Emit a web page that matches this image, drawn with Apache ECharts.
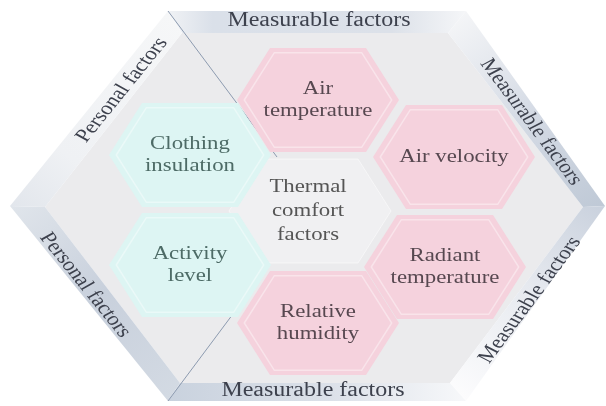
<!DOCTYPE html>
<html><head><meta charset="utf-8">
<script src="https://cdn.jsdelivr.net/npm/echarts@6/dist/echarts.min.js"></script>
<style>html,body{margin:0;padding:0;background:#fff}#main{width:606px;height:406px}</style>
</head><body><div id="main"></div>
<script>
// ---- content ----
const factorLabels = ['Air\ntemperature', 'Air velocity', 'Radiant\ntemperature', 'Relative\nhumidity', 'Clothing\ninsulation', 'Activity\nlevel'];
const factorGroups = ['measurable', 'measurable', 'measurable', 'measurable', 'personal', 'personal'];
const centreLabel = 'Thermal\ncomfort\nfactors';
const bandLabels = ['Measurable factors', 'Measurable factors', 'Measurable factors', 'Measurable factors', 'Personal factors', 'Personal factors'];

// ---- layout (diagram geometry, in axis units) ----
const hexCentres = [[318, 100], [454, 157], [445, 267], [318, 323], [190, 155], [190, 265]];
const centreHex = [310, 211];
const outerFrame = [[168, 11], [466, 11], [605, 206], [466, 401], [168, 401], [10, 206]];
const innerFrame = [[182, 33], [448, 33], [583, 207], [450, 383], [180, 383], [45, 207]];
const bandText = [[319, 21, 0], [531, 122, -58], [530, 300, 58], [313, 391, 0], [85, 285, -56], [122, 90, 56]];
const dividers = [[[168, 11], [277, 157]], [[168, 401], [268, 267]]];
const HX = 81, HT = 48, HY = 52, STRETCH = 1.2;

const bandStops = [
  [[0, '#f0f2f5'], [0.15, '#dae0e9'], [0.75, '#dce1e9'], [1, '#f5f6f8']],
  [[0, '#f4f5f7'], [0.5, '#d5dbe5'], [1, '#bfc9d6']],
  [[0, '#c9d1dd'], [0.45, '#e6e9ef'], [1, '#fcfcfd']],
  [[0, '#f7f8fa'], [0.45, '#dce1e9'], [1, '#c9d2de']],
  [[0, '#d3dae3'], [0.5, '#c8d0dc'], [1, '#e0e5eb']],
  [[0, '#e2e6ec'], [0.3, '#eff1f4'], [1, '#f6f7f8']]
];
const groupStyle = {
  measurable: { fill: '#f5d2dd', text: '#574850' },
  personal: { fill: '#ddf5f3', text: '#4d6b66' }
};

function hexPts(api, cx, cy, s) {
  const p = [[cx - HX * s, cy], [cx - HT * s, cy - HY * s], [cx + HT * s, cy - HY * s],
             [cx + HX * s, cy], [cx + HT * s, cy + HY * s], [cx - HT * s, cy + HY * s]];
  return p.map(q => api.coord(q));
}
function stretchedText(pos, text, rot, size, color, lh) {
  return {
    type: 'group', x: pos[0], y: pos[1], scaleX: STRETCH,
    children: [{
      type: 'text', rotation: rot * Math.PI / 180,
      style: { text: text, x: 0, y: 0, align: 'center', verticalAlign: 'middle',
               fontFamily: 'Liberation Serif', fontSize: size, lineHeight: lh || size + 3, fill: color }
    }]
  };
}

const chart = echarts.init(document.getElementById('main'), null, { renderer: 'canvas' });
chart.setOption({
  animation: false,
  backgroundColor: '#ffffff',
  grid: { left: 0, right: 0, top: 0, bottom: 0 },
  xAxis: { type: 'value', min: 0, max: 606, show: false },
  yAxis: { type: 'value', min: 0, max: 406, inverse: true, show: false },
  series: [
    { // frame bands + inner area
      type: 'custom', z: 1, clip: false, silent: true,
      data: bandLabels.map((l, i) => [outerFrame[i][0], outerFrame[i][1], i]),
      renderItem: function (params, api) {
        const i = api.value(2);
        const j = (i + 1) % 6;
        const pts = [outerFrame[i], outerFrame[j], innerFrame[j], innerFrame[i]].map(q => api.coord(q));
        const a = api.coord(outerFrame[i]), b = api.coord(outerFrame[j]);
        const children = [{
          type: 'polygon', shape: { points: pts },
          style: { fill: new echarts.graphic.LinearGradient(a[0], a[1], b[0], b[1],
            bandStops[i].map(s => ({ offset: s[0], color: s[1] })), true), stroke: null }
        }];
        if (i === 0) {
          children.push({ type: 'polygon', shape: { points: innerFrame.map(q => api.coord(q)) },
            style: { fill: '#ebebed', stroke: null } });
        }
        const t = bandText[i];
        children.push(stretchedText(api.coord([t[0], t[1]]), bandLabels[i], t[2], i === 0 || i === 3 ? 20 : 19, '#3d414d'));
        return { type: 'group', children: children };
      }
    },
    { // dividing lines
      type: 'custom', z: 2, clip: false, silent: true,
      data: dividers.map((d, i) => [d[0][0], d[0][1], i]),
      renderItem: function (params, api) {
        const d = dividers[api.value(2)];
        const a = api.coord(d[0]), b = api.coord(d[1]);
        return { type: 'line', shape: { x1: a[0], y1: a[1], x2: b[0], y2: b[1] },
                 style: { stroke: '#8d9bb0', lineWidth: 1 } };
      }
    },
    { // centre hexagon
      type: 'custom', z: 3, clip: false, silent: true,
      data: [[centreHex[0], centreHex[1], 0]],
      renderItem: function (params, api) {
        const cx = api.value(0), cy = api.value(1);
        return { type: 'group', children: [
          { type: 'polygon', shape: { points: hexPts(api, cx, cy, 1) }, style: { fill: '#f0f0f2', stroke: 'rgba(255,255,255,0.5)', lineWidth: 1 } },
          stretchedText(api.coord([cx - 2, cy]), centreLabel, 0, 19, '#555555', 24)
        ] };
      }
    },
    { // factor hexagons
      type: 'custom', z: 4, clip: false, silent: true,
      data: factorLabels.map((l, i) => [hexCentres[i][0], hexCentres[i][1], i]),
      renderItem: function (params, api) {
        const i = api.value(2);
        const cx = api.value(0), cy = api.value(1);
        const g = groupStyle[factorGroups[i]];
        return { type: 'group', children: [
          { type: 'polygon', shape: { points: hexPts(api, cx, cy, 1) }, style: { fill: g.fill, stroke: null } },
          { type: 'polygon', shape: { points: hexPts(api, cx, cy, 0.91) }, style: { fill: null, stroke: 'rgba(255,255,255,0.4)', lineWidth: 1.5 } },
          stretchedText(api.coord([cx, cy]), factorLabels[i], 0, 19, g.text, 22)
        ] };
      }
    }
  ]
});
</script></body></html>
